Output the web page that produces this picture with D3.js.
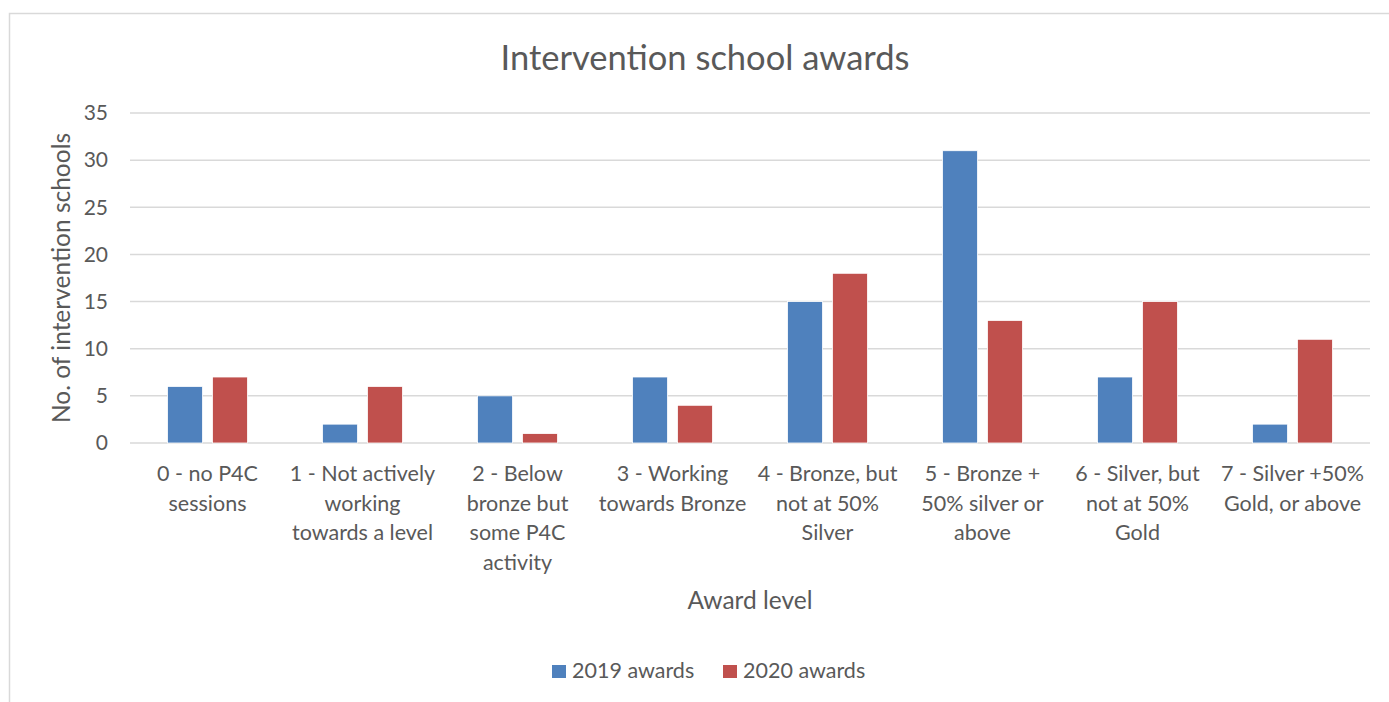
<!DOCTYPE html>
<html>
<head>
<meta charset="utf-8">
<script src="https://cdn.jsdelivr.net/npm/d3@7"></script>
<style>
  body { margin: 0; background: #fff; }
  text { font-family: Lato, "Open Sans", sans-serif; fill: #595959; }
</style>
</head>
<body>
<div class="container"></div>
<script>
var width = 1389;
var height = 702;
var margin = {top: 113, right: 19, bottom: 259, left: 130};

var categories = [
  "0 - no P4C\nsessions",
  "1 - Not actively\nworking\ntowards a level",
  "2 - Below\nbronze but\nsome P4C\nactivity",
  "3 - Working\ntowards Bronze",
  "4 - Bronze, but\nnot at 50%\nSilver",
  "5 - Bronze +\n50% silver or\nabove",
  "6 - Silver, but\nnot at 50%\nGold",
  "7 - Silver +50%\nGold, or above"
];
var series = ["2019 awards", "2020 awards"];
var values2019 = [6, 2, 5, 7, 15, 31, 7, 2];
var values2020 = [7, 6, 1, 4, 18, 13, 15, 11];
var yTicks = [0, 5, 10, 15, 20, 25, 30, 35];
var colors = ["#4f81bd", "#c0504d"];

var data = categories.map((c, i) => ({cat: c, vals: [values2019[i], values2020[i]]}));

var svg = d3.select(".container")
  .append("svg")
  .attr("width", width)
  .attr("height", height);

// chart border
svg.append("rect")
  .attr("x", 9.5).attr("y", 13.5)
  .attr("width", 1400).attr("height", 720)
  .attr("fill", "none")
  .attr("stroke", "#d9d9d9")
  .attr("stroke-width", 1.5);

//-----------------------------------------
// SCALES
var x0 = d3.scaleBand()
  .domain(categories)
  .range([margin.left, width - margin.right]);
var x1 = d3.scaleBand()
  .domain(series)
  .range([x0.bandwidth() / 2 - 40, x0.bandwidth() / 2 + 40])
  .paddingInner(0.22);
var y = d3.scaleLinear()
  .domain([0, 35])
  .range([height - margin.bottom, margin.top]);

// gridlines
svg.append("g")
  .selectAll("line")
  .data(yTicks)
  .enter()
  .append("line")
  .attr("x1", margin.left)
  .attr("x2", width - margin.right)
  .attr("y1", d => y(d))
  .attr("y2", d => y(d))
  .attr("stroke", "#d9d9d9")
  .attr("stroke-width", 1.5);

// y axis labels
var yAxis = d3.axisLeft(y).tickValues(yTicks).tickSize(0).tickPadding(22);
var gy = svg.append("g")
  .attr("transform", "translate(" + margin.left + ",0)")
  .call(yAxis);
gy.select(".domain").remove();
gy.selectAll("text").style("font-size", "21px").attr("fill", "#595959");

//-----------------------------------------
// BARS
var groups = svg.selectAll(".grp")
  .data(data)
  .enter()
  .append("g")
  .attr("transform", d => "translate(" + x0(d.cat) + ",0)");

groups.selectAll("rect")
  .data(d => d.vals.map((v, i) => ({s: series[i], v: v, i: i})))
  .enter()
  .append("rect")
  .attr("x", d => x1(d.s))
  .attr("width", x1.bandwidth())
  .attr("y", d => y(d.v))
  .attr("height", d => y(0) - y(d.v))
  .attr("fill", d => colors[d.i])
  .attr("stroke", "#fff")
  .attr("stroke-width", 0.8);

// x axis category labels
var xAxis = d3.axisBottom(x0).tickSize(0).tickFormat("");
var gx = svg.append("g")
  .attr("transform", "translate(0," + y(0) + ")")
  .call(xAxis);
gx.select(".domain").remove();

var lbl = svg.append("g").selectAll("text")
  .data(categories)
  .enter()
  .append("text")
  .attr("text-anchor", "middle")
  .attr("x", d => x0(d) + x0.bandwidth() / 2)
  .attr("y", 481)
  .style("font-size", "21.5px");
lbl.selectAll("tspan")
  .data(d => d.split("\n"))
  .enter()
  .append("tspan")
  .attr("x", function() { return d3.select(this.parentNode).attr("x"); })
  .attr("dy", (d, i) => i === 0 ? 0 : 29.5)
  .text(d => d);

//-----------------------------------------
// TITLES
svg.append("text")
  .attr("x", 705).attr("y", 70)
  .attr("text-anchor", "middle")
  .style("font-size", "34.5px")
  .text("Intervention school awards");

svg.append("text")
  .attr("x", (margin.left + width - margin.right) / 2).attr("y", 609)
  .attr("text-anchor", "middle")
  .style("font-size", "24.5px")
  .text("Award level");

svg.append("text")
  .attr("transform", "translate(70," + ((y(0) + y(35)) / 2) + ") rotate(-90)")
  .attr("text-anchor", "middle")
  .style("font-size", "24.5px")
  .text("No. of intervention schools");

//-----------------------------------------
// LEGEND
var legendX = [552, 723];
var legend = svg.selectAll(".legend")
  .data(series)
  .enter()
  .append("g")
  .attr("transform", (d, i) => "translate(" + legendX[i] + ",665)");
legend.append("rect")
  .attr("width", 14).attr("height", 13)
  .attr("fill", (d, i) => colors[i]);
legend.append("text")
  .attr("x", 20).attr("y", 13)
  .style("font-size", "21.5px")
  .text(d => d);
</script>
</body>
</html>
